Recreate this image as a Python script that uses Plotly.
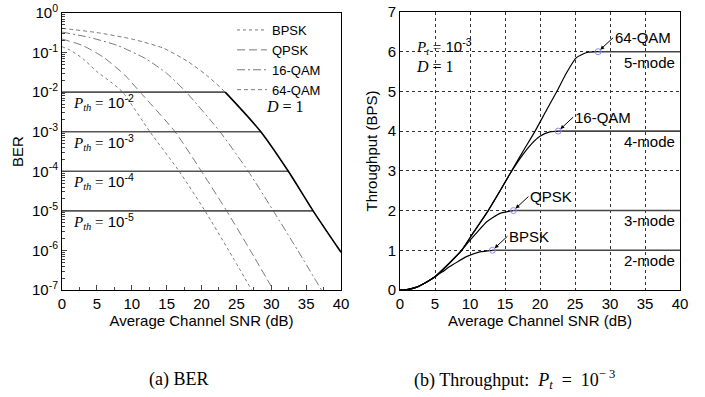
import math
import plotly.graph_objects as go

# ---------------- data: (a) BER ----------------
snr_bpsk = [0, 1.15, 3, 5, 7, 8.7, 12.6, 16.8, 20.5, 23.9, 27.2]
ber_bpsk = [0.14, 0.116, 0.07, 0.033, 0.018, 1e-2, 1e-3, 1e-4, 1e-5, 1e-6, 1e-7]

snr_qpsk = [0, 3, 6, 9, 11.2, 16.2, 20.0, 23.6, 27.0, 30.3]
ber_qpsk = [0.22, 0.15, 0.075, 0.027, 1e-2, 1e-3, 1e-4, 1e-5, 1e-6, 1e-7]

snr_16qam = [0, 4, 8, 12, 15, 17.8, 22.65, 26.7, 30.3, 33.8, 37.2]
ber_16qam = [0.33, 0.24, 0.15, 0.07, 0.03, 1e-2, 1e-3, 1e-4, 1e-5, 1e-6, 1e-7]

snr_64qam = [0, 5, 10, 14.5, 18, 20.7, 23.4, 28.5, 32.45, 36.0, 40]
ber_64qam = [0.41, 0.32, 0.22, 0.13, 0.06, 0.027, 1e-2, 1e-3, 1e-4, 1e-5, 9e-7]

p_th = [1e-2, 1e-3, 1e-4, 1e-5]
p_th_exp = ["-2", "-3", "-4", "-5"]
p_th_end = [23.4, 28.5, 32.45, 36.0]

# ---------------- data: (b) Throughput ----------------
snr_2mode = [0, 1, 2.5, 4, 5, 6, 7.1, 8.3, 9.5, 11.4, 13.2]
tp_2mode = [0, 0.01, 0.08, 0.22, 0.335, 0.45, 0.59, 0.72, 0.84, 0.96, 1.0]

snr_3mode = [0, 1, 2.5, 4, 5, 6.5, 8.8, 9.5, 11, 12.4, 14.3, 16.2]
tp_3mode = [0, 0.01, 0.08, 0.22, 0.335, 0.58, 1.0, 1.15, 1.45, 1.72, 1.93, 2.0]

snr_4mode = [0, 1, 2.5, 4, 5, 6.5, 8.8, 10.5, 12.6, 14.3, 15.7, 17.6, 18.8, 20, 21.4, 22.6]
tp_4mode = [0, 0.01, 0.08, 0.22, 0.335, 0.58, 1.0, 1.45, 2.0, 2.5, 2.92, 3.42, 3.68, 3.87, 3.98, 4.0]

snr_5mode = [0, 1, 2.5, 4, 5, 6.5, 8.8, 10.5, 12.6, 14.3, 15.95, 17.6, 19.3, 20.9, 22.4, 23.8, 25.2, 26.7, 28.3]
tp_5mode = [0, 0.01, 0.08, 0.22, 0.335, 0.58, 1.0, 1.45, 2.0, 2.5, 3.0, 3.5, 4.0, 4.52, 5.0, 5.47, 5.85, 5.98, 6.0]

mode_labels = ["2-mode", "3-mode", "4-mode", "5-mode"]
mod_labels = ["BPSK", "QPSK", "16-QAM", "64-QAM"]
snr_max = 40

SANS = "Liberation Sans, Arial, sans-serif"
SERIF = "Liberation Serif, Times New Roman, serif"
GRAY = "#7a7a7a"

W, H = 705, 397


def px(x):
    return x / W


def py(y):
    return 1 - y / H


fig = go.Figure()

# ---- (a) BER curves
for name, xs, ys, dash in [
    ("BPSK", snr_bpsk, ber_bpsk, "dot"),
    ("QPSK", snr_qpsk, ber_qpsk, "8px,4px"),
    ("16-QAM", snr_16qam, ber_16qam, "8px,3px,2px,3px"),
    ("64-QAM", snr_64qam, ber_64qam, "4px,3px"),
]:
    fig.add_trace(go.Scatter(x=xs, y=ys, mode="lines", name=name,
                             line=dict(color=GRAY, width=1, dash=dash, shape="spline", smoothing=0.6),
                             xaxis="x", yaxis="y"))

# threshold lines
for p, e in zip(p_th, p_th_end):
    fig.add_trace(go.Scatter(x=[0, e], y=[p, p], mode="lines", showlegend=False,
                             line=dict(color="#555555", width=1.6), xaxis="x", yaxis="y"))

# black 64-QAM tail below the highest threshold
tail_x = [x for x, y in zip(snr_64qam, ber_64qam) if y <= p_th[0]]
tail_y = [y for y in ber_64qam if y <= p_th[0]]
fig.add_trace(go.Scatter(x=tail_x, y=tail_y, mode="lines", showlegend=False,
                         line=dict(color="black", width=1.6, shape="spline", smoothing=0.8),
                         xaxis="x", yaxis="y"))

# ---- (b) throughput curves
modes = [(snr_2mode, tp_2mode), (snr_3mode, tp_3mode), (snr_4mode, tp_4mode), (snr_5mode, tp_5mode)]
for xs, ys in modes:
    fig.add_trace(go.Scatter(x=xs, y=ys, mode="lines", showlegend=False,
                             line=dict(color="black", width=1.2, shape="spline", smoothing=0.6),
                             xaxis="x2", yaxis="y2"))
    fig.add_trace(go.Scatter(x=[xs[-1], snr_max], y=[ys[-1], ys[-1]], mode="lines", showlegend=False,
                             line=dict(color="#444444", width=1.6), xaxis="x2", yaxis="y2"))
fig.add_trace(go.Scatter(x=[m[0][-1] for m in modes], y=[m[1][-1] for m in modes], mode="markers",
                         showlegend=False,
                         marker=dict(symbol="circle-open", size=6, color="#8a8aff", line=dict(width=1)),
                         xaxis="x2", yaxis="y2"))

ann = []
# (a) annotations
for p, e in zip(p_th, p_th_exp):
    ann.append(dict(xref="x", yref="y", x=1.3, y=math.log10(p) - 0.27, xanchor="left", yanchor="middle",
                    showarrow=False,
                    text=f"<span style='font-family:{SERIF}'><i>P<sub>th</sub></i> =</span> 10<sup>{e}</sup>",
                    font=dict(family=SANS, size=15, color="black")))
ann.append(dict(xref="x", yref="y", x=29.0, y=-2.375, xanchor="left", yanchor="middle", showarrow=False,
                text="<i>D</i> = 1", font=dict(family=SERIF, size=16, color="black")))

# (b) annotations
ann.append(dict(xref="x2", yref="y2", x=2.0, y=6.12, xanchor="left", yanchor="middle", showarrow=False,
                text=f"<span style='font-family:{SERIF}'><i>P<sub>t</sub></i> =</span> 10<sup>-3</sup>",
                font=dict(family=SANS, size=15, color="black")))
ann.append(dict(xref="x2", yref="y2", x=2.0, y=5.62, xanchor="left", yanchor="middle", showarrow=False,
                text="<i>D</i> = 1", font=dict(family=SERIF, size=16, color="black")))
for (xs, ys), lab in zip(modes, mode_labels):
    ann.append(dict(xref="x2", yref="y2", x=39.6, y=ys[-1] - 0.26, xanchor="right", yanchor="middle",
                    showarrow=False, text=lab, font=dict(family=SANS, size=15, color="black")))
for (xs, ys), lab in zip(modes, mod_labels):
    ann.append(dict(xref="x2", yref="y2", x=xs[-1], y=ys[-1], text=lab, showarrow=True,
                    ax=15, ay=-14, xanchor="left", yanchor="middle",
                    arrowhead=2, arrowsize=0.8, arrowwidth=1, arrowcolor="black", standoff=3,
                    font=dict(family=SANS, size=15, color="black")))

# captions
ann.append(dict(xref="paper", yref="paper", x=px(179), y=py(379), showarrow=False,
                text="(a) BER", xanchor="center", yanchor="middle",
                font=dict(family=SERIF, size=18, color="black")))
ann.append(dict(xref="paper", yref="paper", x=px(514), y=py(379), showarrow=False,
                text="(b) Throughput:&nbsp;&nbsp;<i>P<sub>t</sub></i>&nbsp;&nbsp;=&nbsp;&nbsp;10<sup>−&nbsp;3</sup>",
                xanchor="center", yanchor="middle", font=dict(family=SERIF, size=18, color="black")))

axis_common = dict(showline=True, linecolor="black", linewidth=1, mirror=True, zeroline=False,
                   automargin=False, ticklabeloverflow="allow",
                   tickfont=dict(family=SANS, size=15, color="black"))

ber_ticks = [10 ** (-k) for k in range(0, 8)]
ber_text = ["10<sup>0</sup>"] + [f"10<sup>-{k}</sup>" for k in range(1, 8)]

fig.update_layout(
    width=W, height=H,
    margin=dict(l=0, r=0, t=0, b=0, autoexpand=False),
    paper_bgcolor="white", plot_bgcolor="white",
    font=dict(family=SANS, size=15, color="black"),
    xaxis=dict(domain=[px(62), px(341)], range=[0, 40], dtick=5, ticks="inside", ticklen=5,
               anchor="y", showgrid=False,
               minor=dict(dtick=2.5, ticks="inside", ticklen=3, showgrid=False),
               title=dict(text="Average Channel SNR (dB)", font=dict(family=SANS, size=15), standoff=2),
               **axis_common),
    yaxis=dict(domain=[py(290), py(13)], type="log", range=[-7, 0], anchor="x",
               tickvals=ber_ticks, ticktext=ber_text, ticks="inside", ticklen=5, showgrid=False,
               minor=dict(dtick="D1", ticks="inside", ticklen=3, showgrid=False),
               title=dict(text="BER", font=dict(family=SANS, size=15), standoff=4),
               **axis_common),
    xaxis2=dict(domain=[px(400), px(680)], range=[0, 40], dtick=5, ticks="", anchor="y2",
                showgrid=True, gridcolor="#333333", griddash="dot", gridwidth=1,
                title=dict(text="Average Channel SNR (dB)", font=dict(family=SANS, size=15), standoff=2),
                **axis_common),
    yaxis2=dict(domain=[py(290), py(12)], range=[0, 7], dtick=1, ticks="", anchor="x2",
                showgrid=True, gridcolor="#333333", griddash="dot", gridwidth=1,
                title=dict(text="Throughput (BPS)", font=dict(family=SANS, size=15), standoff=6),
                **axis_common),
    legend=dict(x=px(232), y=py(15), xanchor="left", yanchor="top", bgcolor="rgba(0,0,0,0)",
                font=dict(family=SANS, size=13, color="black"), itemwidth=30, tracegroupgap=0),
    annotations=ann,
    showlegend=True,
)

# remove the browser's default 8px page margin so the figure fills the window exactly
fig.write_html("out.html", config={"displayModeBar": False},
               post_script="document.body.style.margin='0';document.body.style.overflow='hidden';")
